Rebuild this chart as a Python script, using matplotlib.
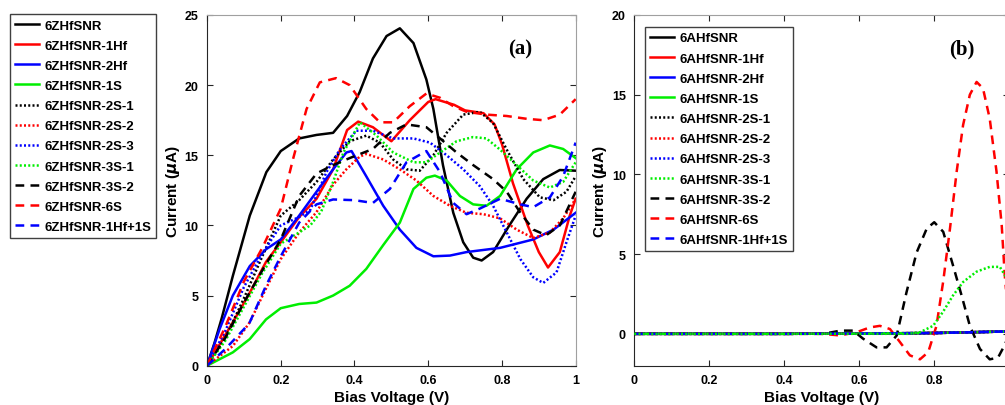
import matplotlib.pyplot as plt

plt.rcParams['font.family'] = ['Liberation Sans', 'DejaVu Sans']
plt.rcParams['font.weight'] = 'bold'

# ---- panel (a) data: bias voltage (V) vs current (uA) ----
zh_black_x = [0, 0.02, 0.04, 0.07, 0.116, 0.161, 0.2, 0.25, 0.297, 0.342, 0.38, 0.414, 0.45, 0.487, 0.523,
              0.56, 0.595, 0.614, 0.64, 0.668, 0.695, 0.722, 0.745, 0.776, 0.82, 0.867, 0.912, 0.957, 1.0]
zh_black_y = [0, 1.6, 3.4, 6.4, 10.7, 13.8, 15.3, 16.2, 16.45, 16.6, 17.8, 19.5, 21.9, 23.5, 24.05,
              23.0, 20.4, 18.3, 14.3, 10.9, 8.8, 7.7, 7.5, 8.1, 10.0, 11.9, 13.3, 13.95, 13.9]

zh_1hf_x = [0, 0.07, 0.116, 0.16, 0.2, 0.25, 0.297, 0.342, 0.38, 0.41, 0.45, 0.5, 0.55, 0.6, 0.62,
            0.67, 0.7, 0.75, 0.78, 0.8, 0.83, 0.87, 0.9, 0.925, 0.957, 0.984, 1.0]
zh_1hf_y = [0, 3.1, 5.2, 7.4, 8.8, 10.6, 11.9, 14.0, 16.8, 17.4, 17.0, 16.0, 17.5, 18.8, 19.0,
            18.6, 18.2, 18.0, 17.2, 15.8, 13.0, 10.0, 8.1, 7.0, 8.1, 10.7, 11.9]

zh_2hf_x = [0, 0.034, 0.07, 0.116, 0.16, 0.2, 0.25, 0.297, 0.342, 0.378, 0.392, 0.432, 0.478, 0.523,
            0.568, 0.614, 0.659, 0.704, 0.795, 0.885, 0.94, 1.0]
zh_2hf_y = [0, 2.6, 5.0, 7.1, 8.3, 9.0, 10.7, 12.4, 14.0, 15.2, 15.3, 13.5, 11.4, 9.7,
            8.4, 7.8, 7.85, 8.1, 8.4, 9.0, 9.7, 10.9]

zh_1s_x = [0, 0.07, 0.116, 0.16, 0.2, 0.25, 0.297, 0.342, 0.387, 0.432, 0.478, 0.523, 0.56, 0.595,
           0.618, 0.65, 0.686, 0.722, 0.758, 0.795, 0.84, 0.885, 0.93, 0.966, 1.0]
zh_1s_y = [0, 0.95, 1.9, 3.3, 4.1, 4.4, 4.5, 5.0, 5.7, 6.9, 8.6, 10.2, 12.6, 13.4,
           13.55, 13.2, 12.1, 11.5, 11.4, 12.1, 14.0, 15.2, 15.7, 15.45, 14.8]

zh_2s1_x = [0, 0.05, 0.1, 0.15, 0.2, 0.25, 0.297, 0.342, 0.387, 0.432, 0.469, 0.505, 0.541, 0.577,
            0.614, 0.65, 0.695, 0.74, 0.776, 0.813, 0.858, 0.903, 0.94, 0.975, 1.0]
zh_2s1_y = [0, 2.0, 4.8, 7.8, 10.7, 11.8, 13.1, 14.7, 16.0, 16.4, 15.9, 14.7, 14.0, 13.9,
            15.0, 16.6, 17.9, 18.1, 17.3, 15.4, 13.3, 12.0, 11.8, 12.4, 13.5]

zh_2s2_x = [0, 0.07, 0.116, 0.16, 0.2, 0.25, 0.297, 0.342, 0.378, 0.414, 0.432, 0.478, 0.523, 0.568,
            0.614, 0.659, 0.704, 0.75, 0.795, 0.84, 0.885, 0.93, 0.966, 1.0]
zh_2s2_y = [0, 1.4, 3.1, 5.5, 7.6, 9.5, 10.95, 12.9, 14.0, 14.9, 15.1, 14.7, 14.0, 13.2,
            12.1, 11.4, 10.9, 10.8, 10.5, 9.7, 9.1, 9.5, 10.5, 11.9]

zh_2s3_x = [0, 0.05, 0.1, 0.15, 0.2, 0.25, 0.28, 0.324, 0.36, 0.405, 0.45, 0.505, 0.56, 0.605,
            0.65, 0.695, 0.74, 0.776, 0.813, 0.85, 0.885, 0.912, 0.948, 0.975, 1.0]
zh_2s3_y = [0, 2.5, 5.6, 8.0, 10.0, 10.6, 11.1, 13.8, 15.4, 16.75, 16.75, 16.2, 16.2, 15.9,
            15.0, 14.0, 12.8, 11.4, 9.5, 7.6, 6.3, 5.9, 6.65, 8.8, 10.7]

zh_3s1_x = [0, 0.05, 0.1, 0.15, 0.2, 0.25, 0.28, 0.31, 0.342, 0.37, 0.415, 0.46, 0.505, 0.56,
            0.595, 0.632, 0.677, 0.722, 0.758, 0.795, 0.84, 0.885, 0.93, 0.966, 1.0]
zh_3s1_y = [0, 1.8, 4.2, 6.6, 8.7, 9.5, 10.0, 11.0, 13.1, 15.2, 17.35, 16.4, 15.2, 14.5,
            14.5, 15.2, 16.0, 16.3, 16.2, 15.4, 14.3, 13.2, 12.7, 13.1, 14.5]

zh_3s2_x = [0, 0.05, 0.1, 0.15, 0.2, 0.25, 0.297, 0.342, 0.387, 0.45, 0.496, 0.541, 0.595, 0.632,
            0.677, 0.722, 0.776, 0.813, 0.85, 0.885, 0.92, 0.957, 1.0]
zh_3s2_y = [0, 2.0, 4.5, 6.8, 9.0, 12.1, 13.7, 14.3, 14.8, 15.45, 16.6, 17.2, 17.0, 16.2,
            15.2, 14.3, 13.3, 12.4, 10.9, 9.7, 9.3, 10.0, 12.4]

zh_6s_x = [0, 0.05, 0.1, 0.15, 0.2, 0.233, 0.27, 0.306, 0.35, 0.387, 0.432, 0.469, 0.505, 0.55,
           0.595, 0.632, 0.668, 0.704, 0.758, 0.813, 0.867, 0.912, 0.957, 1.0]
zh_6s_y = [0, 2.8, 6.0, 8.4, 11.2, 14.7, 18.3, 20.2, 20.5, 20.0, 18.3, 17.35, 17.35, 18.5,
           19.4, 19.1, 18.5, 18.1, 17.9, 17.8, 17.6, 17.5, 17.9, 19.0]

zh_1hf1s_x = [0, 0.05, 0.1, 0.116, 0.16, 0.2, 0.25, 0.297, 0.342, 0.4, 0.45, 0.496, 0.541, 0.595,
              0.632, 0.668, 0.704, 0.74, 0.795, 0.85, 0.885, 0.93, 0.966, 1.0]
zh_1hf1s_y = [0, 1.2, 2.6, 3.1, 5.7, 7.8, 10.2, 11.5, 11.85, 11.8, 11.6, 12.6, 14.5, 15.3,
              13.8, 11.6, 10.8, 11.2, 11.9, 11.5, 11.3, 12.0, 13.5, 15.9]

# ---- panel (b) data ----
flat_x = [0, 0.2, 0.4, 0.6, 0.8, 0.9, 1.0]
flat_y = [0, 0, 0, 0.02, 0.05, 0.1, 0.15]

ah_3s1_x = [0, 0.2, 0.4, 0.6, 0.73, 0.762, 0.797, 0.824, 0.85, 0.877, 0.913, 0.948, 0.975, 0.988, 1.0]
ah_3s1_y = [0, 0, 0, 0, 0, 0.1, 0.5, 1.4, 2.4, 3.25, 3.9, 4.2, 4.2, 3.7, 3.3]

ah_3s2_x = [0, 0.2, 0.4, 0.504, 0.55, 0.584, 0.61, 0.646, 0.673, 0.7, 0.726, 0.753, 0.78, 0.8,
            0.824, 0.85, 0.873, 0.895, 0.922, 0.948, 0.97, 0.988, 1.0]
ah_3s2_y = [0, 0, 0, 0, 0.2, 0.2, -0.3, -0.85, -0.85, -0.1, 2.6, 5.1, 6.6, 7.0,
            6.4, 4.3, 2.4, 0.5, -0.95, -1.6, -1.5, -0.7, 0.0]

ah_6s_x = [0, 0.2, 0.4, 0.5, 0.548, 0.593, 0.628, 0.655, 0.682, 0.708, 0.735, 0.762, 0.784, 0.806,
           0.824, 0.842, 0.86, 0.877, 0.895, 0.913, 0.93, 0.948, 0.966, 0.98, 0.988, 1.0]
ah_6s_y = [0, 0, 0, 0, -0.1, 0.1, 0.4, 0.5, 0.3, -0.5, -1.35, -1.6, -1.15, 0.5,
           3.3, 6.6, 10.2, 13.1, 15.0, 15.8, 15.4, 13.5, 10.2, 6.8, 3.7, 0.5]

labels_a = ['6ZHfSNR', '6ZHfSNR-1Hf', '6ZHfSNR-2Hf', '6ZHfSNR-1S', '6ZHfSNR-2S-1', '6ZHfSNR-2S-2',
            '6ZHfSNR-2S-3', '6ZHfSNR-3S-1', '6ZHfSNR-3S-2', '6ZHfSNR-6S', '6ZHfSNR-1Hf+1S']
labels_b = [s.replace('6ZHfSNR', '6AHfSNR') for s in labels_a]
ticks_x = ['0', '0.2', '0.4', '0.6', '0.8', '1']

colors = ['k', 'r', 'b', '#00ee00', 'k', 'r', 'b', '#00ee00', 'k', 'r', 'b']
DOT = (0, (0.8, 0.9))
DASH = (0, (3.5, 2.5))
styles = ['-', '-', '-', '-', DOT, DOT, DOT, DOT, DASH, DASH, DASH]

series_a = [(zh_black_x, zh_black_y), (zh_1hf_x, zh_1hf_y), (zh_2hf_x, zh_2hf_y), (zh_1s_x, zh_1s_y),
            (zh_2s1_x, zh_2s1_y), (zh_2s2_x, zh_2s2_y), (zh_2s3_x, zh_2s3_y), (zh_3s1_x, zh_3s1_y),
            (zh_3s2_x, zh_3s2_y), (zh_6s_x, zh_6s_y), (zh_1hf1s_x, zh_1hf1s_y)]
series_b = [(flat_x, flat_y)] * 7 + [(ah_3s1_x, ah_3s1_y), (ah_3s2_x, ah_3s2_y),
                                     (ah_6s_x, ah_6s_y), (flat_x, flat_y)]

fig = plt.figure(figsize=(10.05, 4.06), dpi=100)
ax1 = fig.add_axes([0.206, 0.0968, 0.3668, 0.8638])
ax2 = fig.add_axes([0.6311, 0.0968, 0.3731, 0.8638])


def style_axes(ax):
    ax.tick_params(direction='in', top=True, right=True, labelsize=9, length=4,
                   color='#262626', pad=6)
    for lab in ax.get_xticklabels() + ax.get_yticklabels():
        lab.set_fontweight('bold')
    for sp in ax.spines.values():
        sp.set_color('#262626')
        sp.set_linewidth(0.8)
    ax.spines['top'].set_color('#a0a0a0')
    ax.spines['right'].set_color('#a0a0a0')
    ax.set_xlabel('Bias Voltage (V)', fontsize=11, fontweight='bold', labelpad=3)
    ax.set_ylabel(r'Current ($\mu$A)', fontsize=11, fontweight='bold', labelpad=2)


lines_a = []
for (x, y), c, ls, lab in zip(series_a, colors, styles, labels_a):
    ln, = ax1.plot(x, y, color=c, linestyle=ls, lw=1.8, label=lab)
    lines_a.append(ln)
ax1.set_xlim(0, 1)
ax1.set_ylim(0, 25)
ax1.set_xticks([0, 0.2, 0.4, 0.6, 0.8, 1])
ax1.set_xticklabels(ticks_x)
ax1.set_yticks([0, 5, 10, 15, 20, 25])
style_axes(ax1)
ax1.text(0.85, 22.6, '(a)', family='Liberation Serif', fontsize=15, fontweight='bold',
         ha='center', va='center')

for i, ((x, y), c, ls, lab) in enumerate(zip(series_b, colors, styles, labels_b)):
    ax2.plot(x, y, color=c, linestyle=ls, lw=1.8, label=lab, zorder=3 if i == 7 else 2)
ax2.set_xlim(0, 1)
ax2.set_ylim(-2, 20)
ax2.set_xticks([0, 0.2, 0.4, 0.6, 0.8, 1])
# the last label falls outside the picture, as in the reference
ax2.set_xticklabels(ticks_x[:-1] + [''])
ax2.set_yticks([0, 5, 10, 15, 20])
style_axes(ax2)
ax2.text(0.874, 17.9, '(b)', family='Liberation Serif', fontsize=15, fontweight='bold',
         ha='center', va='center')

leg_kw = dict(handlelength=1.8, handletextpad=0.4, labelspacing=0.6,
              borderpad=0.4, borderaxespad=0, fancybox=False, framealpha=1,
              edgecolor='#404040', prop={'weight': 'bold', 'size': 9.5})
fig.legend(handles=lines_a, loc='upper left', bbox_to_anchor=(10 / 1005, 1 - 15 / 406), **leg_kw)
ax2.legend(loc='upper left', bbox_to_anchor=(0.0285, 0.966), **leg_kw)

fig.savefig('out.png', dpi=100)
